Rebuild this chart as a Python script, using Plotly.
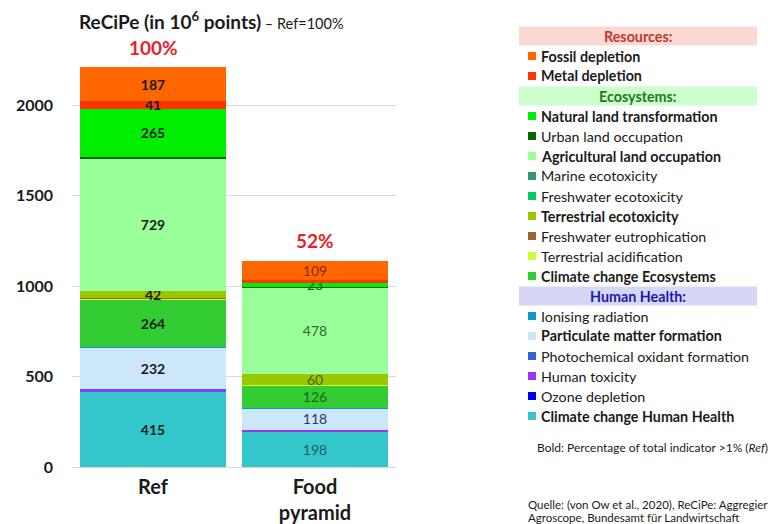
import plotly.graph_objects as go

categories = ["Ref", "Food<br>pyramid"]
pct_labels = ["100%", "52%"]

# stacking order: bottom -> top
series_names = [
    "Climate change Human Health", "Ozone depletion", "Human toxicity",
    "Photochemical oxidant formation", "Particulate matter formation",
    "Ionising radiation", "Climate change Ecosystems", "Terrestrial acidification",
    "Freshwater eutrophication", "Terrestrial ecotoxicity", "Freshwater ecotoxicity",
    "Marine ecotoxicity", "Agricultural land occupation", "Urban land occupation",
    "Natural land transformation", "Metal depletion", "Fossil depletion",
]
climate_hh = [415, 198]
ozone = [1, 0.5]
human_tox = [14, 8]
photochem = [1, 0.5]
particulate = [232, 118]
ionising = [1, 0.5]
climate_eco = [264, 126]
terr_acid = [3, 3]
fresh_eutro = [1, 0.5]
terr_ecotox = [42, 60]
fresh_ecotox = [1, 0.5]
marine_ecotox = [1, 1]
agri_land = [729, 478]
urban_land = [12, 2]
natural_land = [265, 23]
metal = [41, 12]
fossil = [187, 109]
series_values = [climate_hh, ozone, human_tox, photochem, particulate, ionising,
                 climate_eco, terr_acid, fresh_eutro, terr_ecotox, fresh_ecotox,
                 marine_ecotox, agri_land, urban_land, natural_land, metal, fossil]
series_colors = ["#33c7cc", "#0000ee", "#9933ff", "#3366cc", "#cce6fa", "#0e98cc",
                 "#33cc33", "#ccff33", "#996633", "#99c800", "#00cc66", "#339966",
                 "#99ff99", "#006600", "#00ee00", "#ff3300", "#ff6600"]
food_text_colors = ["#1a5f62", "#000080", "#4b1a80", "#1a3366", "#2a3a6a", "#0a4c66",
                    "#1a661a", "#667f1a", "#4c3319", "#4c5e00", "#006633", "#1a4c33",
                    "#2d6b2d", "#003300", "#1a5e1a", "#7f1a00", "#8b2a00"]

legend_order = [
    ("Resources:", None),
    "Fossil depletion", "Metal depletion",
    ("Ecosystems:", None),
    "Natural land transformation", "Urban land occupation", "Agricultural land occupation",
    "Marine ecotoxicity", "Freshwater ecotoxicity", "Terrestrial ecotoxicity",
    "Freshwater eutrophication", "Terrestrial acidification", "Climate change Ecosystems",
    ("Human Health:", None),
    "Ionising radiation", "Particulate matter formation", "Photochemical oxidant formation",
    "Human toxicity", "Ozone depletion", "Climate change Human Health",
]
bold_items = {"Fossil depletion", "Metal depletion", "Natural land transformation",
              "Agricultural land occupation", "Terrestrial ecotoxicity",
              "Climate change Ecosystems", "Particulate matter formation",
              "Climate change Human Health"}
header_styles = {
    "Resources:": ("#fbd9d3", "#c0392b"),
    "Ecosystems:": ("#ccffcc", "#1e7a1e"),
    "Human Health:": ("#d6d6f7", "#1a1aa8"),
}
source_lines = ["Quelle: (von Ow et al., 2020), ReCiPe: Aggregierte Umweltwirkungen",
                "Agroscope, Bundesamt für Landwirtschaft"]

FONT = "Lato"
W, H = 768, 524
L, R, T, B = 72, 396, 33, 467


def px(x):
    return (x - L) / (R - L)


def py(y):
    return (B - y) / (B - T)


fig = go.Figure()
for name, vals, col, fcol in zip(series_names, series_values, series_colors, food_text_colors):
    texts = []
    for i, v in enumerate(vals):
        if v >= 20:
            texts.append(f"<b>{v}</b>" if i == 0 else f"{v}")
        else:
            texts.append("")
    fig.add_trace(go.Bar(
        x=categories, y=vals, name=name, marker=dict(color=col, line=dict(width=0)),
        text=texts, textposition="inside", insidetextanchor="middle", textangle=0,
        constraintext="none",
        textfont=dict(family=FONT, size=14, color=["#1a1a1a", fcol]),
        hoverinfo="skip", showlegend=False,
    ))

totals = [sum(v[i] for v in series_values) for i in range(len(categories))]
for cat, tot, lab in zip(categories, totals, pct_labels):
    fig.add_annotation(x=cat, y=tot, text=f"<b>{lab}</b>", showarrow=False,
                       yshift=20, font=dict(family=FONT, size=19, color="#e8202a"))

# title
fig.add_annotation(xref="paper", yref="paper", x=px(77), y=py(21), xanchor="left",
                   yanchor="middle", showarrow=False,
                   text="<b>ReCiPe (in 10<sup>6</sup> points)</b><span style='font-size:14.5px'> – Ref=100%</span>",
                   font=dict(family=FONT, size=19, color="#1a1a1a"))

# legend
LEG = 14.3
y = 36
for item in legend_order:
    if isinstance(item, tuple):
        label = item[0]
        bg, fg = header_styles[label]
        fig.add_shape(type="rect", xref="paper", yref="paper", x0=px(519), x1=px(757),
                      y0=py(y - 9.5), y1=py(y + 9.5), fillcolor=bg, line=dict(width=0), layer="below")
        fig.add_annotation(xref="paper", yref="paper", x=px(638), y=py(y), xanchor="center",
                           yanchor="middle", showarrow=False, text=f"<b>{label}</b>",
                           font=dict(family=FONT, size=LEG, color=fg))
        y += 20
        continue
    col = series_colors[series_names.index(item)]
    fig.add_shape(type="rect", xref="paper", yref="paper", x0=px(528), x1=px(536),
                  y0=py(y - 4), y1=py(y + 4), fillcolor=col, line=dict(width=0))
    txt = f"<b>{item}</b>" if item in bold_items else item
    fig.add_annotation(xref="paper", yref="paper", x=px(539), y=py(y), xanchor="left",
                       yanchor="middle", showarrow=False, text=txt,
                       font=dict(family=FONT, size=LEG, color="#1a1a1a"))
    y += 20

fig.add_annotation(xref="paper", yref="paper", x=px(535), y=py(447), xanchor="left",
                   yanchor="middle", showarrow=False,
                   text="Bold: Percentage of total indicator >1% (<i>Ref</i>)",
                   font=dict(family=FONT, size=12, color="#1a1a1a"))
for line, yy in zip(source_lines, [504, 517]):
    fig.add_annotation(xref="paper", yref="paper", x=px(526), y=py(yy), xanchor="left",
                       yanchor="middle", showarrow=False, align="left", text=line,
                       font=dict(family=FONT, size=11.5, color="#1a1a1a"))

fig.update_layout(
    width=W, height=H, barmode="stack", bargap=0.1,
    margin=dict(l=L, r=W - R, t=T, b=H - B, autoexpand=False),
    paper_bgcolor="white", plot_bgcolor="white",
    uniformtext=dict(mode="show", minsize=13),
    font=dict(family=FONT, color="#1a1a1a"),
    xaxis=dict(showline=True, linecolor="#d9d9d9", linewidth=1, ticks="", automargin=False,
               tickfont=dict(family=FONT, size=20, color="#1a1a1a", weight="bold"),
               ticklabelstandoff=2),
    yaxis=dict(range=[0, 2400], tickvals=[0, 500, 1000, 1500, 2000], automargin=False,
               showgrid=True, gridcolor="#d9d9d9", gridwidth=1, zeroline=False,
               tickfont=dict(family=FONT, size=16, color="#1a1a1a", weight="bold"),
               ticklabelstandoff=18),
)

fig.write_html("out.html")
